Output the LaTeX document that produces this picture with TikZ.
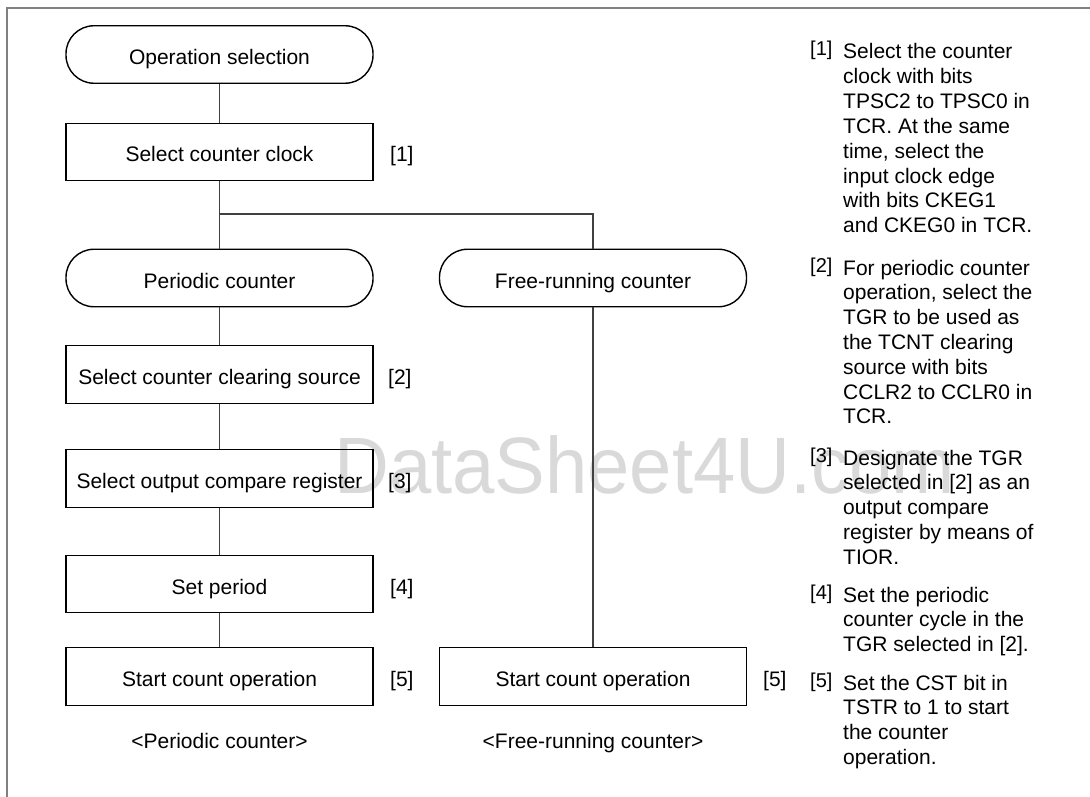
\documentclass[tikz,border=0pt]{standalone}
\usepackage{graphicx}
\usepackage{fontspec}
\setmainfont{Liberation Sans}
\newcommand\noteblock[4]{%
  \node[tagtext] (#1t) at (810,#3-3) {[#2]};
  \foreach \ln [count=\i from 0] in {#4} {
    \node[notetext] (#1-\i) at (843,{#3+24.8*\i}) {\ln};
  }%
}
\begin{document}
\begin{tikzpicture}[x=1pt,y=-1pt,
  every node/.style={inner sep=0pt, font=\fontsize{21}{25}\selectfont},
  box/.style={draw=black, line width=1.4pt, minimum width=307pt, minimum height=57.5pt,
              text height=20pt, text depth=0pt},
  term/.style={box, rounded corners=28pt},
  conn/.style={draw=black!75, line width=1.2pt},
  side/.style={anchor=base west},
  notetext/.style={anchor=base west},
  tagtext/.style={anchor=base west, font=\fontsize{20}{22}\selectfont},
  caption/.style={anchor=base},
  frame/.style={draw=black!50, line width=2pt},
  wmark/.style={anchor=base west, text=black!15, font=\fontsize{80}{80}\selectfont}
]
\useasboundingbox (0,0) rectangle (1090,797);
\draw[frame] (7,797) -- (7,8) -- (1090,8);

\node[wmark] (wm) at (334,493) {\scalebox{0.95}[1]{DataSheet4U.com}};

% left column
\node[term] (opsel)    at (219.5,54.5) {Operation selection};
\node[box]  (clk)      at (219.5,152)  {Select counter clock};
\node[term] (periodic) at (219.5,278)  {Periodic counter};
\node[box]  (clear)    at (219.5,374.5){Select counter clearing source};
\node[box]  (outcmp)   at (219.5,478.5){Select output compare register};
\node[box]  (setper)   at (219.5,584)  {Set period};
\node[box]  (start1)   at (219.5,676.5){Start count operation};
% right column
\node[term] (free)     at (593,278)    {Free-running counter};
\node[box]  (start2)   at (593,676.5)  {Start count operation};

\coordinate (br) at (219.5,214);

\draw[conn] (opsel) -- (clk);
\draw[conn] (clk) -- (periodic);
\draw[conn] (br) -| (free.north);
\draw[conn] (periodic) -- (clear);
\draw[conn] (clear) -- (outcmp);
\draw[conn] (outcmp) -- (setper);
\draw[conn] (setper) -- (start1);
\draw[conn] (free) -- (start2);

% step labels
\node[side] (s1) at (390,162)   {[1]};
\node[side] (s2) at (388,384.5) {[2]};
\node[side] (s3) at (388,488.5) {[3]};
\node[side] (s4) at (390,594)   {[4]};
\node[side] (s5) at (390,686.5) {[5]};
\node[side] (s5b) at (763,686.5) {[5]};

\node[caption] (cap1) at (219.5,748) {<Periodic counter>};
\node[caption] (cap2) at (593,748)   {<Free-running counter>};

% notes
\noteblock{na}{1}{59}{Select the counter,clock with bits,TPSC2 to TPSC0 in,TCR. At the same,{time, select the},input clock edge,with bits CKEG1,and CKEG0 in TCR.}
\noteblock{nb}{2}{275}{For periodic counter,{operation, select the},TGR to be used as,the TCNT clearing,source with bits,CCLR2 to CCLR0 in,TCR.}
\noteblock{nc}{3}{465}{Designate the TGR,{selected in [2] as an},output compare,register by means of,TIOR.}
\noteblock{nd}{4}{602}{Set the periodic,counter cycle in the,{TGR selected in [2].}}
\noteblock{ne}{5}{690}{Set the CST bit in,TSTR to 1 to start,the counter,operation.}
\end{tikzpicture}
\end{document}
